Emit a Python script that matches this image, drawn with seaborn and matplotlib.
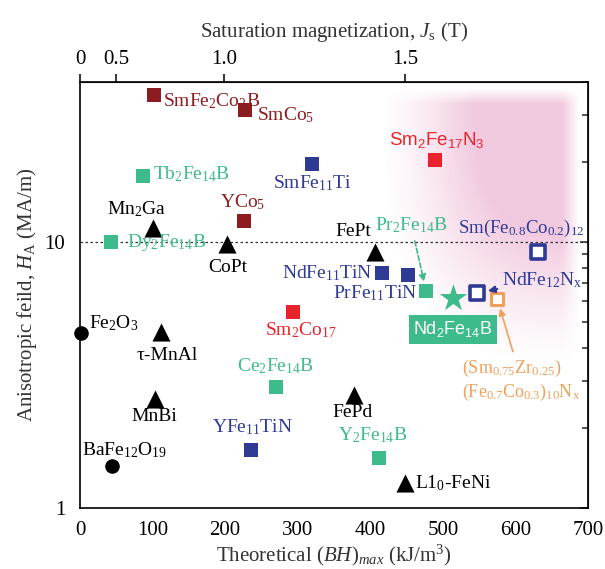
import matplotlib
matplotlib.use('Agg')
import matplotlib.pyplot as plt
import matplotlib.ticker as mticker
import numpy as np
import pandas as pd
import seaborn as sns

# データ: 理論 (BH)max [kJ/m3] と 異方性磁界 HA [MA/m]
materials = ['SmFe2Co2B', 'SmCo5', 'Sm2Fe17N3', 'Tb2Fe14B', 'SmFe11Ti', 'YCo5',
             'Mn2Ga', 'Dy2Fe14B', 'CoPt', 'FePt', 'Pr2Fe14B', 'Sm(Fe0.8Co0.2)12',
             'NdFe11TiN', 'PrFe11TiN', 'NdFe12Nx', 'Nd2Fe14B', 'SmZrFeCoN',
             'Fe2O3', 'tau-MnAl', 'Sm2Co17', 'Ce2Fe14B', 'MnBi', 'FePd',
             'YFe11TiN', 'Y2Fe14B', 'BaFe12O19', 'L10-FeNi']
bh_max = [102, 227, 489, 87, 320, 226,
          100, 43, 202, 406, 477, 631,
          416, 452, 547, 514, 575,
          2, 112, 294, 270, 103, 378,
          235, 412, 44, 448]
h_a = [35.7, 31.3, 20.3, 17.7, 19.6, 12.0,
       11.3, 10.0, 9.8, 9.2, 6.54, 9.17,
       7.65, 7.5, 6.43, 6.16, 6.1,
       4.55, 4.59, 5.46, 2.85, 2.57, 2.66,
       1.65, 1.54, 1.44, 1.24]
groups = ['SmCo', 'SmCo', 'SmN', 'R2Fe14B', 'ThMn12', 'SmCo',
          'L10', 'R2Fe14B', 'L10', 'L10', 'R2Fe14B', 'ThMn12_open',
          'ThMn12', 'ThMn12', 'ThMn12_open', 'NdFeB', 'SmZr',
          'ferrite', 'L10', 'SmN', 'R2Fe14B', 'L10', 'L10',
          'ThMn12', 'R2Fe14B', 'ferrite', 'L10']

labels = {
    'SmFe2Co2B': r'$\mathregular{SmFe_2Co_2B}$',
    'SmCo5': r'$\mathregular{SmCo_5}$',
    'Sm2Fe17N3': r'$\mathregular{Sm_2Fe_{17}N_3}$',
    'Tb2Fe14B': r'$\mathregular{Tb_2Fe_{14}B}$',
    'SmFe11Ti': r'$\mathregular{SmFe_{11}Ti}$',
    'YCo5': r'$\mathregular{YCo_5}$',
    'Mn2Ga': r'$\mathregular{Mn_2Ga}$',
    'Dy2Fe14B': r'$\mathregular{Dy_2Fe_{14}B}$',
    'CoPt': 'CoPt',
    'FePt': 'FePt',
    'Pr2Fe14B': r'$\mathregular{Pr_2Fe_{14}B}$',
    'Sm(Fe0.8Co0.2)12': r'$\mathregular{Sm(Fe_{0.8}Co_{0.2})_{12}}$',
    'NdFe11TiN': r'$\mathregular{NdFe_{11}TiN}$',
    'PrFe11TiN': r'$\mathregular{PrFe_{11}TiN}$',
    'NdFe12Nx': r'$\mathregular{NdFe_{12}N_x}$',
    'Nd2Fe14B': r'$\mathregular{Nd_2Fe_{14}B}$',
    'SmZrFeCoN': '$\\mathregular{(Sm_{0.75}Zr_{0.25})}$\n'
                 '$\\mathregular{(Fe_{0.7}Co_{0.3})_{10}N_x}$',
    'Fe2O3': r'$\mathregular{Fe_2O_3}$',
    'tau-MnAl': 'τ-MnAl',
    'Sm2Co17': r'$\mathregular{Sm_2Co_{17}}$',
    'Ce2Fe14B': r'$\mathregular{Ce_2Fe_{14}B}$',
    'MnBi': 'MnBi',
    'FePd': 'FePd',
    'YFe11TiN': r'$\mathregular{YFe_{11}TiN}$',
    'Y2Fe14B': r'$\mathregular{Y_2Fe_{14}B}$',
    'BaFe12O19': r'$\mathregular{BaFe_{12}O_{19}}$',
    'L10-FeNi': r'$\mathregular{L1_0}$-FeNi',
}

# ラベル位置 (offset pixels, ha)
label_pos = {
    'SmFe2Co2B': (9, -6, 'left'), 'SmCo5': (12, -5, 'left'),
    'Sm2Fe17N3': (2, 20, 'center'), 'Tb2Fe14B': (10, 2, 'left'),
    'SmFe11Ti': (0, -19, 'center'), 'YCo5': (-1, 19, 'center'),
    'Mn2Ga': (-16, 19, 'center'), 'Dy2Fe14B': (16, 0, 'left'),
    'CoPt': (1, -23, 'center'), 'FePt': (-21, 20, 'center'),
    'Pr2Fe14B': (-15, 66, 'center'), 'Sm(Fe0.8Co0.2)12': (-17, 24, 'center'),
    'NdFe11TiN': (-9, 0, 'right'), 'PrFe11TiN': (9, -18, 'right'),
    'NdFe12Nx': (25, 13, 'left'), 'Nd2Fe14B': (0, -31, 'center'),
    'SmZrFeCoN': (-35, -81, 'left'), 'Fe2O3': (8, 10, 'left'),
    'tau-MnAl': (6, -23, 'center'), 'Sm2Co17': (7, -18, 'center'),
    'Ce2Fe14B': (0, 21, 'center'), 'MnBi': (0, -18, 'center'),
    'FePd': (-2, -17, 'center'), 'YFe11TiN': (2, 23, 'center'),
    'Y2Fe14B': (-6, 23, 'center'), 'BaFe12O19': (12, 16, 'center'),
    'L10-FeNi': (10, 0, 'left'),
}

group_style = {
    'SmCo': dict(marker='s', color='#8c1c1f', face='#8c1c1f', s=105, lw=0),
    'SmN': dict(marker='s', color='#e8232b', face='#e8232b', s=105, lw=0),
    'R2Fe14B': dict(marker='s', color='#3dbb8a', face='#3dbb8a', s=105, lw=0),
    'ThMn12': dict(marker='s', color='#2e3a94', face='#2e3a94', s=105, lw=0),
    'ThMn12_open': dict(marker='s', color='#2e3a94', face='white', s=100, lw=2.6),
    'SmZr': dict(marker='s', color='#f0a05a', face='white', s=75, lw=2.2),
    'NdFeB': dict(marker='*', color='#3dbb8a', face='#3dbb8a', s=430, lw=0),
    'L10': dict(marker='^', color='black', face='black', s=170, lw=0),
    'ferrite': dict(marker='o', color='black', face='black', s=110, lw=0),
}

df = pd.DataFrame({'material': materials, 'bh': bh_max, 'ha': h_a, 'group': groups})

sns.set_style('white')
plt.rcParams['font.family'] = ['Liberation Serif', 'DejaVu Serif']
plt.rcParams['mathtext.fontset'] = 'custom'
plt.rcParams['mathtext.rm'] = 'Liberation Serif'
plt.rcParams['mathtext.it'] = 'Liberation Serif:italic'
plt.rcParams['mathtext.bf'] = 'Liberation Serif:bold'

fig = plt.figure(figsize=(6.05, 5.69), dpi=100)
pos = [80 / 605, 61 / 569, 508 / 605, 426 / 569]

# 背景のピンク領域
bg = fig.add_axes(pos, zorder=0)
uu, vv = np.meshgrid(np.linspace(0, 1, 400), np.linspace(0, 1, 400))
r = ((np.clip(0.98 - uu, 0, None) / 0.37) ** 3 + (np.clip(0.98 - vv, 0, None) / 0.62) ** 3) ** (1 / 3)
alpha = np.clip((1.05 - r) / 0.5, 0, 1) ** 1.3 * 0.33
alpha *= np.clip((0.985 - uu) / 0.035, 0, 1) * np.clip((0.985 - vv) / 0.035, 0, 1)
rgba = np.zeros((400, 400, 4))
rgba[..., 0], rgba[..., 1], rgba[..., 2] = 0.84, 0.36, 0.62
rgba[..., 3] = alpha
bg.imshow(rgba, extent=(0, 1, 0, 1), origin='lower', aspect='auto', interpolation='bilinear')
bg.axis('off')

ax = fig.add_axes(pos, zorder=1)
ax.patch.set_visible(False)
ax.set_yscale('log')

for g, sub in df.groupby('group'):
    st = group_style[g]
    sns.scatterplot(data=sub, x='bh', y='ha', marker=st['marker'], s=st['s'],
                    color=st['face'], edgecolor=st['color'], linewidth=st['lw'],
                    ax=ax, clip_on=False, zorder=3, legend=False)

ax.axhline(10, color='#333333', lw=0.9, ls=(0, (2, 2)), zorder=1)

for _, row in df.iterrows():
    dx, dy, ha = label_pos[row['material']]
    st = group_style[row['group']]
    color = st['color']
    kw = dict(fontsize=14, family=['Liberation Serif', 'DejaVu Serif'])
    if row['material'] == 'Sm2Fe17N3':
        kw = dict(fontsize=13.5, family=['Liberation Sans', 'DejaVu Sans'])
    if row['material'] == 'Nd2Fe14B':
        kw = dict(fontsize=13, family=['Liberation Sans', 'DejaVu Sans'], color='white',
                  bbox=dict(boxstyle='square,pad=0.25', fc='#3dbb8a', ec='none'))
    if row['material'] == 'Sm(Fe0.8Co0.2)12':
        kw['fontsize'] = 13.5
    if row['material'] == 'Pr2Fe14B':
        kw['arrowprops'] = dict(arrowstyle='-|>', color='#3dbb8a', lw=1.2, ls=(0, (3, 1.5)),
                                shrinkA=2, shrinkB=7, mutation_scale=10)
    if row['material'] == 'NdFe12Nx':
        kw['arrowprops'] = dict(arrowstyle='-|>', color='#2e3a94', lw=1.5,
                                shrinkA=1, shrinkB=8, mutation_scale=10)
    if row['material'] == 'SmZrFeCoN':
        kw['arrowprops'] = dict(arrowstyle='-|>', color='#f0a05a', lw=1.2,
                                shrinkA=2, shrinkB=7, mutation_scale=10)
        kw['linespacing'] = 1.2
        kw['fontsize'] = 13
    kw.setdefault('color', color)
    ax.annotate(labels[row['material']], (row['bh'], row['ha']), xytext=(dx, dy),
                textcoords='offset pixels', ha=ha, va='center', zorder=4, **kw)

ax.set_xlim(0, 700)
ax.set_ylim(1, 40)
ax.xaxis.set_major_locator(mticker.MultipleLocator(100))
ax.xaxis.set_minor_locator(mticker.MultipleLocator(50))
ax.yaxis.set_major_locator(mticker.LogLocator(base=10))
ax.yaxis.set_minor_locator(mticker.LogLocator(base=10, subs=np.arange(2, 10)))
ax.yaxis.set_major_formatter(mticker.FuncFormatter(lambda v, p: f'{v:g}'))
ax.yaxis.set_minor_formatter(mticker.NullFormatter())

for sp in ax.spines.values():
    sp.set_visible(True)
    sp.set_color('black')
    sp.set_linewidth(1.2)

ax.tick_params(axis='both', which='both', colors='black', labelsize=15, width=1.1)
ax.tick_params(axis='x', which='major', direction='out', length=6, top=False)
ax.tick_params(axis='x', which='minor', direction='out', length=3, top=False)
ax.tick_params(axis='y', which='major', direction='out', length=7, right=False)
ax.tick_params(axis='y', which='minor', direction='out', length=4, right=False)

# 右側の目盛り(内向き)
ax_r = ax.secondary_yaxis('right')
ax_r.set_yscale('log')
ax_r.yaxis.set_major_locator(mticker.LogLocator(base=10))
ax_r.yaxis.set_minor_locator(mticker.LogLocator(base=10, subs=np.arange(2, 10)))
ax_r.yaxis.set_major_formatter(mticker.NullFormatter())
ax_r.yaxis.set_minor_formatter(mticker.NullFormatter())
ax_r.tick_params(which='major', direction='in', length=6, width=1.1)
ax_r.tick_params(which='minor', direction='in', length=4, width=1.1)

ax.set_xlabel(r'Theoretical $\mathit{(BH)}_{\mathit{max}}$ (kJ/m$^\mathregular{3}$)', fontsize=15,
              color='#333333', labelpad=2)
ax.set_ylabel(r'Anisotropic feild, $\mathit{H}_\mathregular{A}$ (MA/m)', fontsize=15,
              color='#333333', labelpad=4)

# 上軸: 飽和磁化 Js
k = 198.94
top = ax.secondary_xaxis('top', functions=(lambda b: np.sqrt(np.clip(b, 0, None) / k),
                                           lambda j: k * np.asarray(j) ** 2))
top.set_xticks([0, 0.5, 1.0, 1.5])
top.set_xticklabels(['0', '0.5', '1.0', '1.5'])
top.tick_params(direction='out', length=6, width=1.1, labelsize=15, colors='black')
top.xaxis.set_minor_locator(mticker.NullLocator())
top.set_xlabel(r'Saturation magnetization, $\mathit{J}_\mathregular{s}$ (T)', fontsize=15,
               color='#333333', labelpad=9)

fig.savefig('out.png', dpi=100, facecolor='white')
